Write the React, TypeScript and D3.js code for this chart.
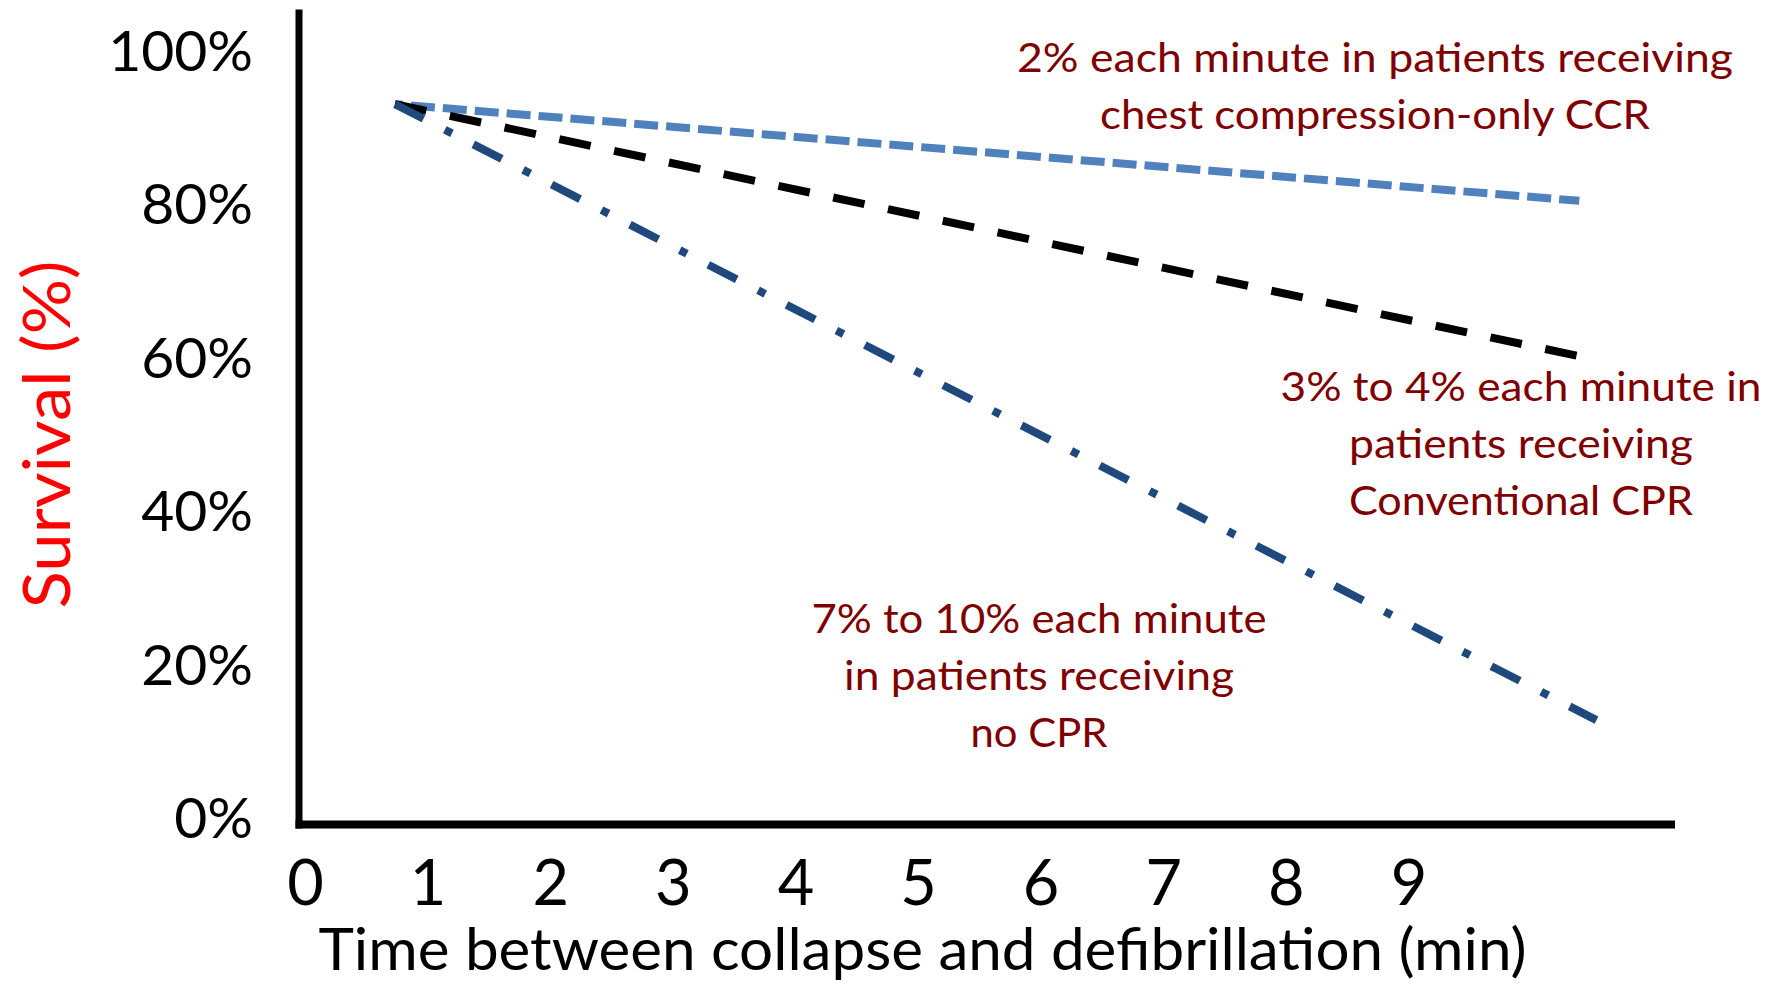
/**
 * App.tsx
 *
 * Survival vs. time from collapse to defibrillation. Three straight decline
 * lines (CCR, conventional CPR, no CPR) on a plain L-shaped frame, with the
 * explanatory notes in dark red beside each line.
 */
import React from 'react';
import * as d3 from 'd3';

// ── Data ──────────────────────────────────────────────────────────────────────
const timeTicks = [0, 1, 2, 3, 4, 5, 6, 7, 8, 9];
const survivalTicks = [0, 20, 40, 60, 80, 100];

const ccrTime = [0.73, 10.39];
const ccrSurvival = [93.0, 80.4];

const conventionalTime = [0.73, 10.37];
const conventionalSurvival = [93.0, 60.2];

const noCprTime = [0.73, 10.53];
const noCprSurvival = [93.0, 12.7];

const ccrNote = ['2% each minute in patients receiving', 'chest compression-only CCR'];
const conventionalNote = ['3% to 4% each minute in', 'patients receiving', 'Conventional CPR'];
const noCprNote = ['7% to 10% each minute', 'in patients receiving', 'no CPR'];

// ── Layout ────────────────────────────────────────────────────────────────────
const WIDTH = 1777;
const HEIGHT = 985;
const FONT = 'Lato, "Open Sans", sans-serif';
const NOTE_COLOR = '#7f0000';

interface Series {
  key: string;
  time: number[];
  survival: number[];
  color: string;
  dash: string;
  offset: number;
}

const series: Series[] = [
  { key: 'ccr', time: ccrTime, survival: ccrSurvival, color: '#4f81bd', dash: '24 8', offset: 16 },
  { key: 'conv', time: conventionalTime, survival: conventionalSurvival, color: '#000000', dash: '32 24', offset: 0 },
  { key: 'none', time: noCprTime, survival: noCprSurvival, color: '#1f497d', dash: '32 24 8 24', offset: 0 },
];

// note blocks: centre x, first baseline, line height, measured line widths
const notes = [
  { lines: ccrNote, cx: 1375, y: 72, lh: 56.6, widths: [716, 550] },
  { lines: conventionalNote, cx: 1521, y: 401, lh: 57, widths: [481, 344, 344] },
  { lines: noCprNote, cx: 1039, y: 633, lh: 57, widths: [455, 390, 137] },
];

export default function App() {
  const xScale = d3.scaleLinear().domain([0, 10]).range([305.5, 1531.5]);
  const yScale = d3.scaleLinear().domain([0, 100]).range([817.5, 50.5]);

  const line = d3
    .line<[number, number]>()
    .x((d) => xScale(d[0]))
    .y((d) => yScale(d[1]));

  // frame sits a little outside the 0 tick positions, as in the slide
  const frameX = xScale(0) - 6.5;
  const frameY = yScale(0) + 7;

  return (
    <svg
      width={WIDTH}
      height={HEIGHT}
      style={{ position: 'absolute', left: 0, top: 0, display: 'block', background: '#fff' }}
      fontFamily={FONT}
    >
      {/* Frame */}
      <line x1={frameX} x2={frameX} y1={9.5} y2={frameY + 4} stroke="#000" strokeWidth={7} />
      <line x1={frameX - 3.5} x2={1675} y1={frameY} y2={frameY} stroke="#000" strokeWidth={8} />

      {/* Y tick labels */}
      {survivalTicks.map((v) => (
        <text key={v} x={253} y={yScale(v) + 20.5} textAnchor="end" fontSize={57} fill="#000">
          {`${v}%`}
        </text>
      ))}

      {/* X tick labels */}
      {timeTicks.map((t) => (
        <text key={t} x={xScale(t)} y={905} textAnchor="middle" fontSize={63} fill="#000">
          {t}
        </text>
      ))}

      {/* Axis titles */}
      <text
        x={922.5}
        y={970}
        textAnchor="middle"
        fontSize={59}
        fill="#000"
        textLength={1208}
        lengthAdjust="spacingAndGlyphs"
      >
        Time between collapse and defibrillation (min)
      </text>
      <text
        transform="translate(70,434.5) rotate(-90)"
        textAnchor="middle"
        fontSize={66}
        fill="#ff0000"
        textLength={348}
        lengthAdjust="spacingAndGlyphs"
      >
        Survival (%)
      </text>

      {/* Decline lines */}
      {series.map((s) => (
        <path
          key={s.key}
          d={line(s.time.map((t, i) => [t, s.survival[i]] as [number, number])) ?? ''}
          fill="none"
          stroke={s.color}
          strokeWidth={8}
          strokeDasharray={s.dash}
          strokeDashoffset={s.offset}
          strokeLinecap="butt"
        />
      ))}

      {/* Notes */}
      {notes.map((n, ni) =>
        n.lines.map((txt, li) => (
          <text
            key={`${ni}-${li}`}
            x={n.cx}
            y={n.y + li * n.lh}
            textAnchor="middle"
            fontSize={41}
            fill={NOTE_COLOR}
            textLength={n.widths[li]}
            lengthAdjust="spacingAndGlyphs"
          >
            {txt}
          </text>
        )),
      )}
    </svg>
  );
}
